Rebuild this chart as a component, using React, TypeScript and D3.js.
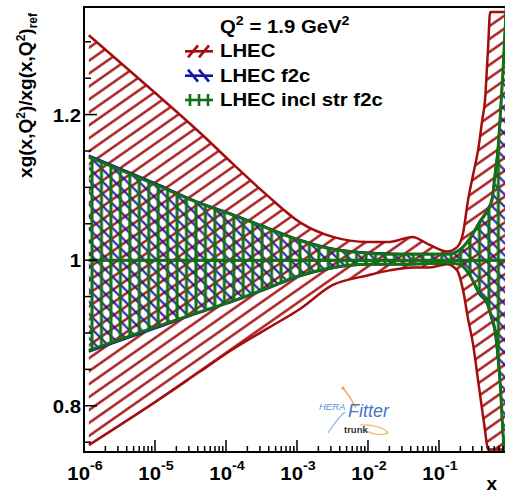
import React from 'react';
import * as d3 from 'd3';

// ---- data ----
const X_RED = [1.17e-6, 1e-5, 4.3e-5, 1.26e-4, 3.8e-4, 1.1e-3, 3.2e-3, 9.8e-3, 2.0e-2, 4.2e-2, 7.4e-2, 0.13, 0.18, 0.218, 0.256, 0.3, 0.355, 0.41, 0.445, 0.474, 0.49, 0.525, 1.0];
const RED_UP = [1.309, 1.230, 1.175, 1.132, 1.089, 1.052, 1.032, 1.025, 1.025, 1.032, 1.021, 1.012, 1.018, 1.037, 1.082, 1.116, 1.151, 1.195, 1.220, 1.265, 1.289, 1.341, 1.341];
const RED_LO = [0.746, 0.805, 0.847, 0.878, 0.906, 0.933, 0.966, 0.979, 0.986, 0.990, 0.990, 0.9945, 0.986, 0.959, 0.920, 0.886, 0.835, 0.791, 0.766, 0.746, 0.740, 0.740, 0.740];

const X_F2C = [1.17e-6, 1e-5, 4.3e-5, 1.26e-4, 3.8e-4, 1.1e-3, 3.2e-3, 9.8e-3, 0.028, 0.13, 0.196, 0.274, 0.37, 0.474, 0.557, 0.615, 0.676, 0.723, 0.796, 1.0];
const BLUE_UP = [1.144, 1.106, 1.079, 1.063, 1.045, 1.028, 1.016, 1.0105, 1.009, 1.009, 1.015, 1.031, 1.053, 1.069, 1.085, 1.12, 1.155, 1.196, 1.262, 1.46];
const BLUE_LO = [0.874, 0.906, 0.928, 0.943, 0.9605, 0.978, 0.989, 0.994, 0.994, 0.9955, 0.994, 0.978, 0.953, 0.94, 0.917, 0.9, 0.864, 0.83, 0.758, 0.62];
const GREEN_UP = [1.142, 1.104, 1.078, 1.062, 1.044, 1.027, 1.015, 1.0096, 1.008, 1.008, 1.014, 1.030, 1.051, 1.067, 1.082, 1.117, 1.151, 1.192, 1.258, 1.45];
const GREEN_LO = [0.876, 0.908, 0.929, 0.944, 0.9615, 0.979, 0.990, 0.9945, 0.9945, 0.996, 0.9945, 0.979, 0.955, 0.942, 0.920, 0.904, 0.869, 0.835, 0.764, 0.63];

const X_DECADES = [1e-6, 1e-5, 1e-4, 1e-3, 1e-2, 1e-1];
const X_EXPONENTS = ['-6', '-5', '-4', '-3', '-2', '-1'];
const Y_MAJOR = [0.8, 1.0, 1.2];
const Y_LABELS = ['0.8', '1', '1.2'];
const Y_MINOR = [0.75, 0.85, 0.9, 0.95, 1.05, 1.1, 1.15, 1.25, 1.3];

const LEGEND = ['LHEC', 'LHEC f2c', 'LHEC incl str f2c'];

const RED = '#a40d0d';
const BLUE = '#1515a5';
const GREEN = '#137013';
const FONT = '"Liberation Sans", Arial, Helvetica, sans-serif';

export default function App() {
  const W = 505, H = 493;
  const L = 84, R = 510, T = 7, B = 452;
  const x = d3.scaleLog().domain([1e-6, 1]).range([L, R]);
  const y = d3.scaleLinear().domain([0.7365, 1.3478]).range([B, T]);

  const band = (xs: number[], up: number[], lo: number[]) => {
    const pts = xs.map((xv, i) => ({ x: xv, u: up[i], l: lo[i] }));
    const area = d3.area<any>().x(d => x(d.x)).y0(d => y(d.l)).y1(d => y(d.u)).curve(d3.curveMonotoneX)(pts) || '';
    const upper = d3.line<any>().x(d => x(d.x)).y(d => y(d.u)).curve(d3.curveMonotoneX)(pts) || '';
    const lower = d3.line<any>().x(d => x(d.x)).y(d => y(d.l)).curve(d3.curveMonotoneX)(pts) || '';
    return { area, upper, lower, x0: x(xs[0]), x1: x(xs[xs.length - 1]) };
  };

  const red = band(X_RED, RED_UP, RED_LO);
  const blue = band(X_F2C, BLUE_UP, BLUE_LO);
  const green = band(X_F2C, GREEN_UP, GREEN_LO);

  const xMinor: number[] = [];
  for (let e = -6; e < 0; e++) for (let m = 2; m <= 9; m++) xMinor.push(m * Math.pow(10, e));

  const legendSym = (i: number, yc: number) => {
    const x0 = 185, x1 = 213;
    if (i === 0) {
      return (
        <g stroke={RED} strokeWidth={2.6} fill="none">
          <line x1={x0} y1={yc} x2={x1} y2={yc} />
          <line x1={188} y1={yc + 6} x2={198} y2={yc - 6} />
          <line x1={199} y1={yc + 6} x2={209} y2={yc - 6} />
        </g>
      );
    }
    if (i === 1) {
      return (
        <g stroke={BLUE} strokeWidth={2.6} fill="none">
          <line x1={x0} y1={yc} x2={x1} y2={yc} />
          <line x1={188} y1={yc - 6} x2={198} y2={yc + 6} />
          <line x1={199} y1={yc - 6} x2={209} y2={yc + 6} />
        </g>
      );
    }
    return (
      <g stroke={GREEN} strokeWidth={2.6} fill="none">
        <line x1={x0} y1={yc} x2={x1} y2={yc} />
        <line x1={190} y1={yc - 6} x2={190} y2={yc + 6} />
        <line x1={199} y1={yc - 6} x2={199} y2={yc + 6} />
        <line x1={208} y1={yc - 6} x2={208} y2={yc + 6} />
      </g>
    );
  };

  return (
    <svg width={W} height={H} style={{ position: 'absolute', left: 0, top: 0, background: '#fff' }} fontFamily={FONT}>
      <defs>
        <clipPath id="plotClip">
          <rect x={L} y={T} width={R - L} height={B - T} />
        </clipPath>
        <pattern id="hRed" patternUnits="userSpaceOnUse" width={10.6} height={10.6} patternTransform="rotate(-35)">
          <line x1={0} y1={5.3} x2={10.6} y2={5.3} stroke={RED} strokeWidth={2.3} />
        </pattern>
        <pattern id="hBlue" patternUnits="userSpaceOnUse" width={8.6} height={8.6} patternTransform="rotate(45)">
          <line x1={0} y1={4.3} x2={8.6} y2={4.3} stroke={BLUE} strokeWidth={2} />
        </pattern>
        <pattern id="hGreen" patternUnits="userSpaceOnUse" x={87.3} y={0} width={9.45} height={10}>
          <line x1={4.725} y1={0} x2={4.725} y2={10} stroke={GREEN} strokeWidth={3} />
        </pattern>
      </defs>

      <g clipPath="url(#plotClip)">
        {/* LHEC */}
        <path d={red.area} fill="url(#hRed)" />
        <path d={red.upper} fill="none" stroke={RED} strokeWidth={2.5} />
        <path d={red.lower} fill="none" stroke={RED} strokeWidth={2.5} />
        <line x1={red.x0} x2={red.x1} y1={y(1)} y2={y(1)} stroke={RED} strokeWidth={2.5} />
        {/* LHEC f2c */}
        <path d={blue.area} fill="url(#hBlue)" />
        <path d={blue.upper} fill="none" stroke={BLUE} strokeWidth={2} />
        <path d={blue.lower} fill="none" stroke={BLUE} strokeWidth={2} />
        <line x1={blue.x0} x2={blue.x1} y1={y(1)} y2={y(1)} stroke={BLUE} strokeWidth={2} />
        {/* LHEC incl str f2c */}
        <path d={green.area} fill="url(#hGreen)" />
        <path d={green.upper} fill="none" stroke={GREEN} strokeWidth={3} />
        <path d={green.lower} fill="none" stroke={GREEN} strokeWidth={3} />
        <line x1={green.x0} x2={green.x1} y1={y(1)} y2={y(1)} stroke={GREEN} strokeWidth={3} />
      </g>

      {/* frame */}
      <rect x={L} y={T} width={R - L} height={B - T} fill="none" stroke="#000" strokeWidth={2} />

      {/* ticks */}
      <g stroke="#000" strokeWidth={1.5}>
        {X_DECADES.map((d, i) => (
          <line key={'xm' + i} x1={x(d)} x2={x(d)} y1={B} y2={B - 12} />
        ))}
        {xMinor.map((d, i) => (
          <line key={'xn' + i} x1={x(d)} x2={x(d)} y1={B} y2={B - 6} />
        ))}
        {Y_MAJOR.map((v, i) => (
          <line key={'ym' + i} x1={L} x2={L + 13} y1={y(v)} y2={y(v)} />
        ))}
        {Y_MINOR.map((v, i) => (
          <line key={'yn' + i} x1={L} x2={L + 7} y1={y(v)} y2={y(v)} />
        ))}
      </g>

      {/* x tick labels */}
      {X_DECADES.map((d, i) => (
        <g key={'xl' + i} transform={`translate(${x(d) + 1},480) scale(1.1,1)`}>
          <text x={0} y={0} textAnchor="middle" fontSize={18.5} fontWeight="bold" fill="#000">
            10<tspan fontSize={13} dy={-10}>{X_EXPONENTS[i]}</tspan>
          </text>
        </g>
      ))}
      <text x={497} y={490} textAnchor="end" fontSize={19} fontWeight="bold">x</text>

      {/* y tick labels */}
      {Y_MAJOR.map((v, i) => (
        <g key={'yl' + i} transform={`translate(81,${y(v) + 7}) scale(1.1,1)`}>
          <text x={0} y={0} textAnchor="end" fontSize={18.5} fontWeight="bold">{Y_LABELS[i]}</text>
        </g>
      ))}

      {/* y title */}
      <g transform="translate(32,13) rotate(-90)">
        <text x={0} y={0} textAnchor="end" fontSize={19} fontWeight="bold">
          xg(x,Q<tspan fontSize={12} dy={-7}>2</tspan><tspan dy={7}>)/xg(x,Q</tspan><tspan fontSize={12} dy={-7}>2</tspan><tspan dy={7}>)</tspan><tspan fontSize={12} dy={5}>ref</tspan>
        </text>
      </g>

      {/* legend */}
      <g transform="translate(220,33) scale(1.1,1)">
        <text x={0} y={0} fontSize={18.5} fontWeight="bold">
          Q<tspan fontSize={13} dy={-8}>2</tspan><tspan dy={8}> = 1.9 GeV</tspan><tspan fontSize={13} dy={-8}>2</tspan>
        </text>
      </g>
      {LEGEND.map((t, i) => {
        const base = [57.3, 81.7, 106][i];
        return (
          <g key={'lg' + i}>
            {legendSym(i, base - 6)}
            <g transform={`translate(220,${base}) scale(1.1,1)`}>
              <text x={0} y={0} fontSize={18.5} fontWeight="bold">{t}</text>
            </g>
          </g>
        );
      })}

      {/* HERAFitter logo */}
      <g>
        <path d="M343,388 C348,394 352,400 356,408" fill="none" stroke="#f2a23c" strokeWidth={1.2} />
        <circle cx={343} cy={388} r={1.6} fill="#f2a23c" />
        <path d="M328,433 C333,425 338,418 345,412" fill="none" stroke="#8fb4ea" strokeWidth={1.2} />
        <path d="M360,425 C372,424 385,428 388,433 C382,436 372,434 366,431" fill="none" stroke="#f2b25c" strokeWidth={1.2} />
        <text x={319} y={410} fontSize={9.5} fontStyle="italic" fill="#5b8bd6">HERA</text>
        <text x={348} y={417} fontSize={18} fontStyle="italic" fill="#4677c8">Fitter</text>
        <text x={344} y={433} fontSize={9.5} fontWeight="bold" fill="#333">trunk</text>
      </g>
    </svg>
  );
}
